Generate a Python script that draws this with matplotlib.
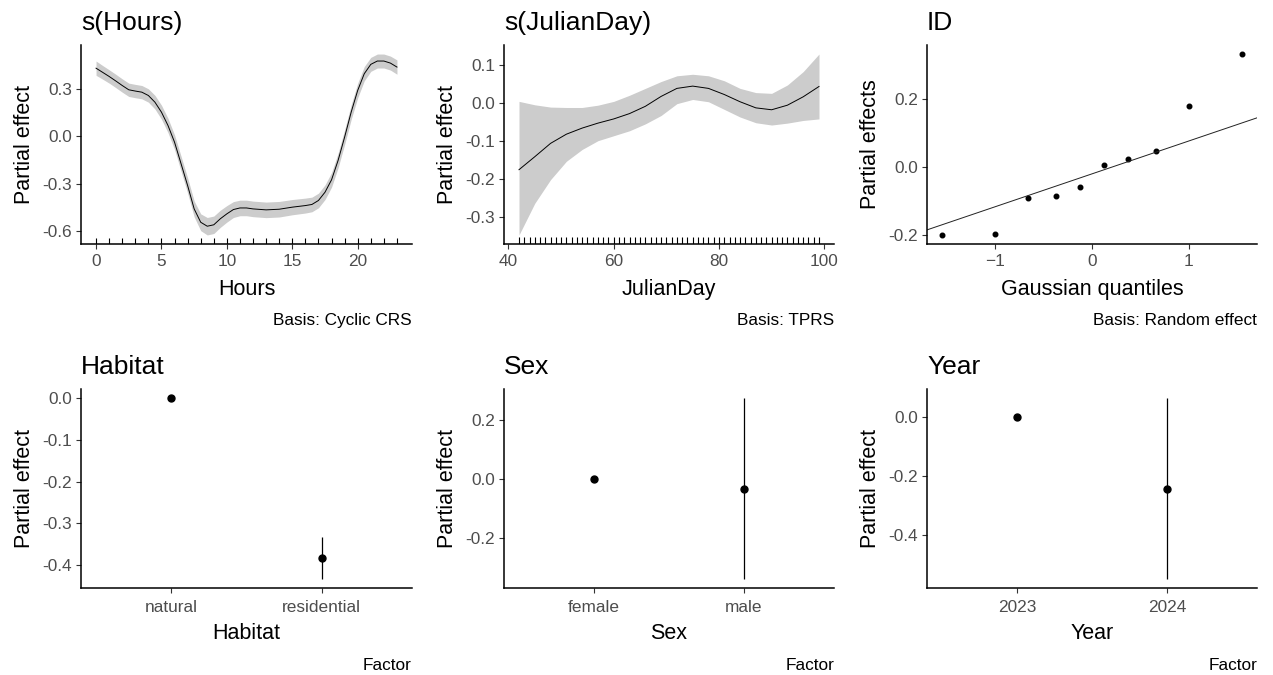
#!/usr/bin/env python3

"""Partial effect panels of a GAM fit (smooths, random effect, factors)."""

import matplotlib
matplotlib.use('Agg')
import matplotlib.pyplot as plt
import numpy as np

# s(Hours): fitted smooth and half width of the interval, every half hour
hours = [0, 0.5, 1, 1.5, 2, 2.5, 3, 3.5, 4, 4.5, 5, 5.5, 6, 6.5, 7, 7.5,
         8, 8.5, 9, 9.5, 10, 10.5, 11, 11.5, 12, 13, 14, 15, 16, 16.5,
         17, 17.5, 18, 18.5, 19, 19.5, 20, 20.5, 21, 21.5, 22, 22.5, 23]
hours_fit = [0.428, 0.402, 0.376, 0.348, 0.319, 0.292, 0.284, 0.277, 0.256,
             0.214, 0.151, 0.067, -0.038, -0.174, -0.311, -0.458, -0.542,
             -0.567, -0.558, -0.520, -0.489, -0.462, -0.452, -0.452, -0.458,
             -0.464, -0.460, -0.447, -0.437, -0.430, -0.405, -0.353, -0.275,
             -0.153, -0.006, 0.151, 0.288, 0.393, 0.452, 0.473, 0.473,
             0.460, 0.435]
hours_ci = [0.045, 0.043, 0.042, 0.042, 0.042, 0.042, 0.042, 0.042, 0.042,
            0.043, 0.044, 0.045, 0.046, 0.047, 0.048, 0.050, 0.053, 0.055,
            0.055, 0.054, 0.052, 0.050, 0.049, 0.049, 0.049, 0.049, 0.049,
            0.048, 0.047, 0.046, 0.046, 0.046, 0.046, 0.046, 0.046, 0.046,
            0.046, 0.045, 0.044, 0.044, 0.044, 0.044, 0.045]
hours_rug = list(range(0, 24))

# s(JulianDay): fitted smooth with lower/upper interval
jday = [42, 45, 48, 51, 54, 57, 60, 63, 66, 69, 72, 75, 78, 81, 84, 87, 90,
        93, 96, 99]
jday_fit = [-0.175, -0.141, -0.106, -0.082, -0.066, -0.053, -0.042, -0.028,
            -0.009, 0.017, 0.038, 0.044, 0.038, 0.022, 0.003, -0.013, -0.018,
            -0.006, 0.016, 0.043]
jday_upper = [0.004, -0.005, -0.011, -0.012, -0.012, -0.006, 0.004, 0.020,
              0.038, 0.056, 0.071, 0.075, 0.071, 0.058, 0.038, 0.027, 0.025,
              0.047, 0.082, 0.128]
jday_lower = [-0.346, -0.263, -0.201, -0.153, -0.122, -0.099, -0.086, -0.073,
              -0.055, -0.033, -0.002, 0.009, 0.003, -0.017, -0.037, -0.052,
              -0.058, -0.053, -0.046, -0.042]
jday_rug = list(range(42, 100))

# ID random effect: QQ plot
id_quantiles = [-1.547, -0.998, -0.655, -0.375, -0.123, 0.123, 0.375, 0.655,
                0.998, 1.547]
id_effects = [-0.200, -0.196, -0.092, -0.085, -0.058, 0.007, 0.025, 0.046,
              0.179, 0.333]
id_line_intercept = -0.020
id_line_slope = 0.097

# Factor terms: level, estimate, lower, upper
habitat_levels = ['natural', 'residential']
habitat_est = [0.0, -0.382]
habitat_lower = [0.0, -0.433]
habitat_upper = [0.0, -0.333]

sex_levels = ['female', 'male']
sex_est = [0.0, -0.036]
sex_lower = [0.0, -0.340]
sex_upper = [0.0, 0.273]

year_levels = ['2023', '2024']
year_est = [0.0, -0.245]
year_lower = [0.0, -0.549]
year_upper = [0.0, 0.064]

plt.rcParams['font.family'] = ['Liberation Sans', 'DejaVu Sans']

W, H = 1273, 675
TICK_COLOR = '#4d4d4d'


def expand(lo, hi, frac=0.05):
    pad = (hi - lo) * frac
    return lo - pad, hi + pad


def make_axes(fig, left, top, width=330, height=199):
    ax = fig.add_axes([left / W, 1 - (top + height) / H, width / W, height / H])
    for side in ('top', 'right'):
        ax.spines[side].set_visible(False)
    for side in ('left', 'bottom'):
        ax.spines[side].set_linewidth(1.1)
        ax.spines[side].set_color('black')
    ax.tick_params(direction='out', length=3.5, width=0.8, color='#333333',
                   labelsize=12.4, labelcolor=TICK_COLOR, pad=3)
    ax.tick_params(axis='x', pad=4)
    return ax


def decorate(ax, title, xlabel, ylabel, caption, caption_y):
    ax.annotate(title, xy=(0, 1), xycoords='axes fraction',
                xytext=(0, 11), textcoords='offset points',
                ha='left', va='baseline', fontsize=19)
    ax.set_xlabel(xlabel, fontsize=15.5)
    ax.set_ylabel(ylabel, fontsize=15.5)
    ax.xaxis.set_label_coords(0.5, -0.175)
    ax.yaxis.set_label_coords(-0.138, 0.5)
    ax.annotate(caption, xy=(1, 0), xycoords='axes fraction',
                xytext=(0, caption_y), textcoords='offset points',
                ha='right', va='baseline', fontsize=12.4)


def factor_panel(ax, levels, est, lower, upper, yticks):
    x = np.arange(1, len(levels) + 1)
    ax.vlines(x, lower, upper, color='black', linewidth=0.9)
    ax.plot(x, est, 'o', color='black', markersize=5)
    ax.set_xlim(0.4, len(levels) + 0.6)
    ax.set_ylim(*expand(min(lower), max(upper)))
    ax.set_xticks(x)
    ax.set_xticklabels(levels)
    ax.tick_params(axis='x', pad=5.5)
    ax.set_yticks(yticks)
    ax.set_yticklabels(['%.1f' % v for v in yticks])


fig = plt.figure(figsize=(W / 100, H / 100), dpi=100)

# s(Hours)
ax = make_axes(fig, 81, 45, width=331)
lo = np.array(hours_fit) - np.array(hours_ci)
hi = np.array(hours_fit) + np.array(hours_ci)
ax.fill_between(hours, lo, hi, color='#cccccc', linewidth=0)
ax.plot(hours, hours_fit, color='black', linewidth=0.7)
ax.vlines(hours_rug, 0, 0.03, transform=ax.get_xaxis_transform(),
          color='black', linewidth=0.8)
ax.set_xlim(*expand(min(hours), max(hours)))
ax.set_ylim(*expand(lo.min(), hi.max()))
ax.set_xticks([0, 5, 10, 15, 20])
ax.set_yticks([0.3, 0.0, -0.3, -0.6])
ax.set_yticklabels(['0.3', '0.0', '-0.3', '-0.6'])
decorate(ax, 's(Hours)', 'Hours', 'Partial effect', 'Basis: Cyclic CRS', -58)

# s(JulianDay)
ax = make_axes(fig, 504, 45)
ax.fill_between(jday, jday_lower, jday_upper, color='#cccccc', linewidth=0)
ax.plot(jday, jday_fit, color='black', linewidth=0.7)
ax.vlines(jday_rug, 0, 0.033, transform=ax.get_xaxis_transform(),
          color='black', linewidth=0.8)
ax.set_xlim(*expand(min(jday), max(jday)))
ax.set_ylim(*expand(min(jday_lower), max(jday_upper)))
ax.set_xticks([40, 60, 80, 100])
ax.set_yticks([0.1, 0.0, -0.1, -0.2, -0.3])
ax.set_yticklabels(['0.1', '0.0', '-0.1', '-0.2', '-0.3'])
decorate(ax, 's(JulianDay)', 'JulianDay', 'Partial effect', 'Basis: TPRS', -58)

# ID
ax = make_axes(fig, 927, 45)
xlim = expand(min(id_quantiles), max(id_quantiles))
ax.plot(id_quantiles, id_effects, 'o', color='black', markersize=3.3)
xl = np.array(xlim)
ax.plot(xl, id_line_intercept + id_line_slope * xl, color='#222222',
        linewidth=0.7)
ax.set_xlim(*xlim)
ax.set_ylim(*expand(min(id_effects), max(id_effects)))
ax.set_xticks([-1, 0, 1])
ax.set_yticks([-0.2, 0.0, 0.2])
ax.set_yticklabels(['-0.2', '0.0', '0.2'])
decorate(ax, 'ID', 'Gaussian quantiles', 'Partial effects',
         'Basis: Random effect', -58)

# Habitat
ax = make_axes(fig, 81, 389, width=331)
factor_panel(ax, habitat_levels, habitat_est, habitat_lower, habitat_upper,
             [0.0, -0.1, -0.2, -0.3, -0.4])
decorate(ax, 'Habitat', 'Habitat', 'Partial effect', 'Factor', -59)

# Sex
ax = make_axes(fig, 504, 389)
factor_panel(ax, sex_levels, sex_est, sex_lower, sex_upper, [0.2, 0.0, -0.2])
decorate(ax, 'Sex', 'Sex', 'Partial effect', 'Factor', -59)

# Year
ax = make_axes(fig, 927, 389)
factor_panel(ax, year_levels, year_est, year_lower, year_upper,
             [0.0, -0.2, -0.4])
decorate(ax, 'Year', 'Year', 'Partial effect', 'Factor', -59)

fig.savefig('out.png', dpi=100, facecolor='white')
